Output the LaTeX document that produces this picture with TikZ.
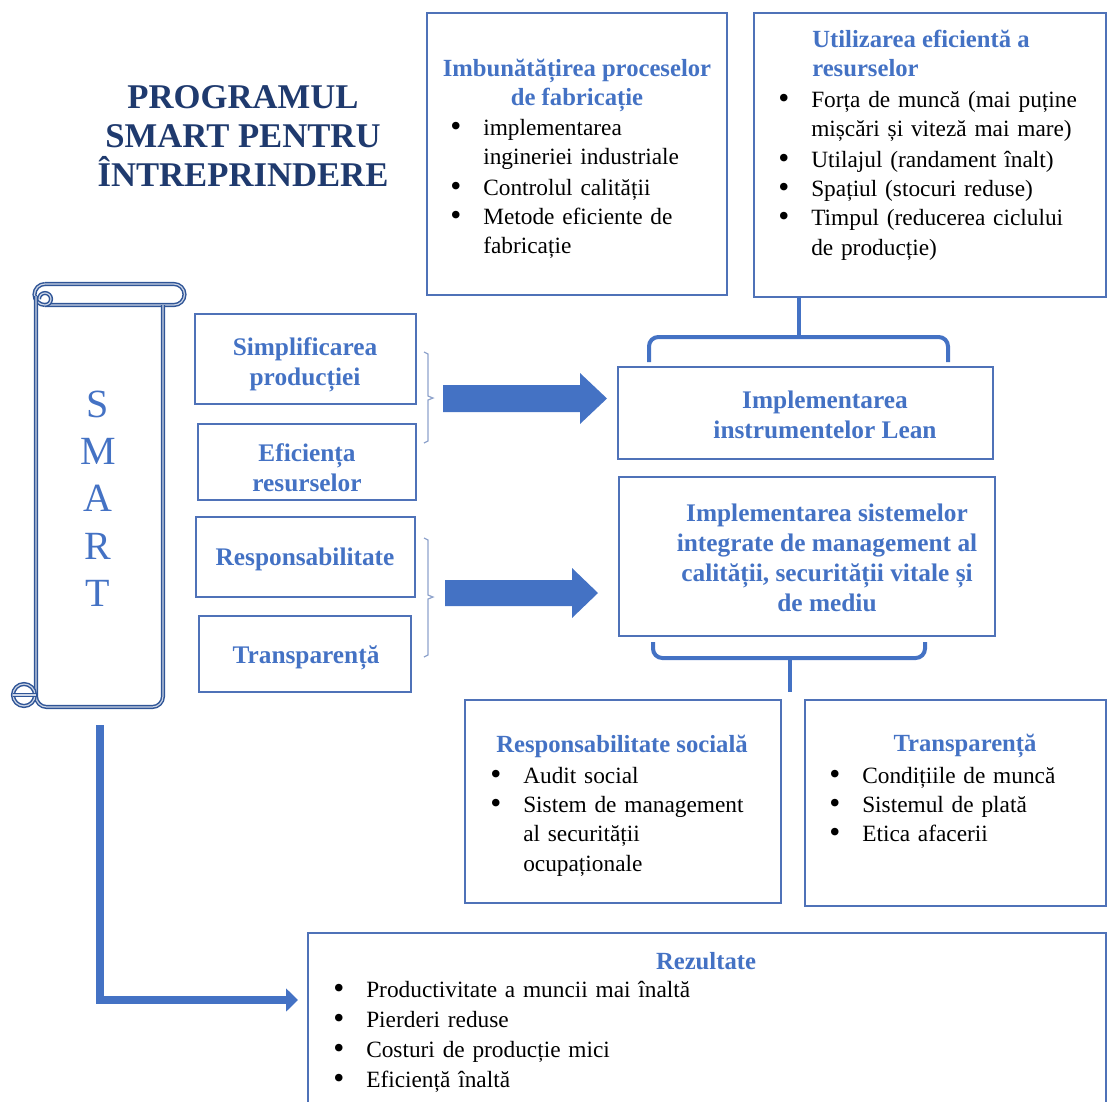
\documentclass[tikz,border=0pt]{standalone}
\usepackage{fontspec}
\setmainfont{Liberation Serif}
\usetikzlibrary{fit,arrows.meta}
\definecolor{boxblue}{HTML}{4F72B8}
\definecolor{txtblue}{HTML}{4472C4}
\definecolor{navy}{HTML}{1F3A6E}
\definecolor{scrollblue}{HTML}{2F5597}
\definecolor{brgray}{HTML}{8FA3CC}
\newcommand{\bitem}[1]{\lineskiplimit=-20pt\relax\par\noindent\makebox[24.75pt][l]{\raisebox{-0.8pt}{\scalebox{1.35}{\textbullet}}}\parbox[t]{330pt}{\lineskiplimit=-20pt\relax\strut#1\strut}\par}
\begin{document}
\begin{tikzpicture}[x=0.75pt,y=-0.75pt,
  box/.style={draw=boxblue,line width=1.2pt,inner sep=0pt},
  head/.style={font=\fontsize{19}{22.5}\selectfont\bfseries,text=txtblue,align=center,inner sep=0pt},
  lhead/.style={font=\fontsize{18.5}{21.75}\selectfont\bfseries,text=txtblue,inner sep=0pt},
  lst/.style={font=\fontsize{17.5}{22}\selectfont,align=left,text width=420pt,anchor=north west,inner sep=0pt},
  brk/.style={draw=txtblue,line width=3pt,rounded corners=7pt},
  thinbrk/.style={draw=brgray,line width=0.9pt},
  scr/.style={draw=scrollblue,double=white!75!scrollblue,double distance=0.9pt,line width=1.1pt},
  bigarrow/.style={fill=txtblue},
]
\useasboundingbox (0,0) rectangle (1108,1101);
\clip (0,0) rectangle (1108,1101);

% Title
\node[font=\fontsize{26}{29.25}\selectfont\bfseries,text=navy,align=center] (title) at (243,136)
  {PROGRAMUL\\SMART PENTRU\\ÎNTREPRINDERE};

% Top boxes
\node[box,fit={(427,13) (727,295)}] (b1) {};
\node[lhead,align=center] (b1h) at (577,85.5) {Imbunătățirea proceselor\\de fabricație};
\node[lst] (b1l) at (450,105.5) {%
\bitem{implementarea\\ingineriei  industriale}
\bitem{Controlul calității}
\bitem{Metode eficiente de\\fabricație}};

\node[box,fit={(754,13) (1106,297)}] (b2) {};
\node[lhead,align=left,anchor=west] (b2h) at (812,53.5) {Utilizarea eficientă a\\resurselor};
\node[lst] (b2l) at (778,77.5) {%
\bitem{Forța de muncă (mai puține\\mișcări  și viteză mai mare)}
\bitem{Utilajul (randament înalt)}
\bitem{Spațiul (stocuri reduse)}
\bitem{Timpul (reducerea ciclului\\de producție)}};

% Scroll
\draw[scr] (45,284) -- (174,284) arc(-90:90:10.5) -- (45,305);
\draw[scr] (45,305) arc(90:270:10.5);
\draw[scr] (45,305) arc(90:-180:6);
\draw[scr,rounded corners=8pt] (36,296) -- (36,707) -- (163,707) -- (163,305);
\draw[scr] (24,695) circle (11);
\draw[scr] (13,695) -- (36,695);
\node[font=\fontsize{30}{35.5}\selectfont,text=txtblue,align=center] (smart) at (98,498.5) {S\\M\\A\\R\\T};

% Left small boxes
\node[box,fit={(195,314) (416,404)}] (simp) {};
\node[head] (simph) at (305,365) {Simplificarea\\producției};
\node[box,fit={(198,424) (416,500)}] (efic) {};
\node[head] (efich) at (307,468) {Eficiența\\resurselor};
\node[box,fit={(196,517) (415,597)}] (resp) {};
\node[head] (resph) at (305,559) {Responsabilitate};
\node[box,fit={(199,616) (411,692)}] (transp) {};
\node[head] (transph) at (306,658) {Transparență};

% Thin brackets
\draw[thinbrk] (424,352) -- (428,354) -- (428,396) -- (433,398) -- (428,400) -- (428,441) -- (424,443);
\draw[thinbrk] (424,538) -- (428,540) -- (428,595) -- (433,597) -- (428,599) -- (428,655) -- (424,657);

% Big arrows
\fill[bigarrow] (443,385) -- (580,385) -- (580,373) -- (607,398.5) -- (580,424) -- (580,412) -- (443,412) -- cycle;
\fill[bigarrow] (445,580) -- (572,580) -- (572,568) -- (598,593) -- (572,618) -- (572,606) -- (445,606) -- cycle;

% Middle right boxes
\node[box,fit={(618,367) (993,459)}] (lean) {};
\node[head] (leanh) at (825,415) {Implementarea\\instrumentelor Lean};
\node[box,fit={(619,477) (995,636)}] (sist) {};
\node[head] (sisth) at (827,558) {Implementarea sistemelor\\integrate de management al\\calității, securității vitale și\\de mediu};

% Braces
\coordinate (tb) at (799,297);
\draw[brk] (649,362) -- (649,337) -- (948,337) -- (948,362);
\draw[brk] (799,337) -- (tb);
\coordinate (bb) at (790,692);
\draw[brk] (653,642) -- (653,658) -- (925,658) -- (925,642);
\draw[brk] (790,658) -- (bb);

% Bottom boxes
\node[box,fit={(465,700) (781,903)}] (soc) {};
\node[lhead] (soch) at (622,746) {Responsabilitate socială};
\node[lst] (socl) at (490,753.5) {%
\bitem{Audit social}
\bitem{Sistem de management\\al securității\\ocupaționale}};

\node[box,fit={(805,700) (1106,906)}] (tr) {};
\node[lhead] (trh) at (965,746) {Transparență};
\node[lst] (trl) at (829,753.5) {%
\bitem{Condițiile de muncă}
\bitem{Sistemul de plată}
\bitem{Etica afacerii}};

% Results box
\node[box,fit={(308,933) (1106,1115)}] (rez) {};
\node[lhead] (rezh) at (706,961) {Rezultate};
\node[lst,font=\fontsize{17.5}{22.5}\selectfont] (rezl) at (333,967.5) {%
\bitem{Productivitate a muncii mai înaltă}
\bitem{Pierderi reduse}
\bitem{Costuri de producție mici}
\bitem{Eficiență înaltă}};

% L arrow
\coordinate (lstart) at (100,725);
\coordinate (lend) at (298,1000);
\draw[txtblue,line width=6pt,-{Triangle[length=9pt,width=17pt]}] (lstart) |- (lend);
\end{tikzpicture}
\end{document}
